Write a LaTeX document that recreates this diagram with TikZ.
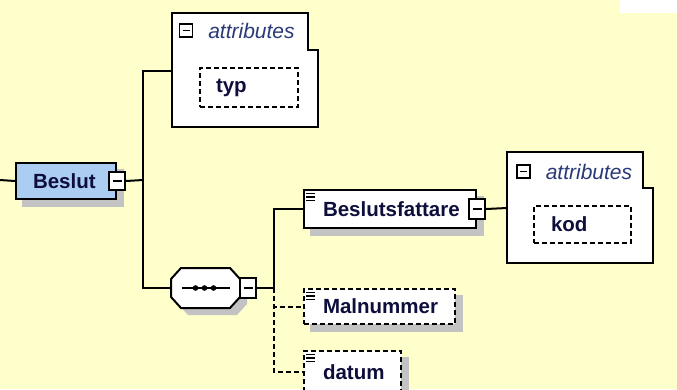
\documentclass[tikz,border=0pt]{standalone}
\usepackage{fontspec}
\setmainfont{Liberation Sans}
\usetikzlibrary{positioning}

\definecolor{bgyellow}{HTML}{FFFFCC}
\definecolor{elemblue}{HTML}{ABCDF1}
\definecolor{shadowgray}{HTML}{C3C3C3}
\definecolor{textnavy}{HTML}{0E0E3C}
\definecolor{attrblue}{HTML}{2A3A78}

\pgfdeclarelayer{back}
\pgfsetlayers{back,main}

% outline of the sequence compositor, shifted by (#2,#3)
\newcommand{\seqoctagon}[3]{([shift={(#2+10,#3)}]#1.north west) -- ([shift={(#2-10,#3)}]#1.north east)
  -- ([shift={(#2,#3+11)}]#1.north east) -- ([shift={(#2,#3-11)}]#1.south east)
  -- ([shift={(#2-10,#3)}]#1.south east) -- ([shift={(#2+10,#3)}]#1.south west)
  -- ([shift={(#2,#3-11)}]#1.south west) -- ([shift={(#2,#3+11)}]#1.north west) -- cycle}

\tikzset{every picture/.style={line width=2pt}}
\tikzset{
  elem/.style={draw, fill=white, inner xsep=17pt, inner ysep=0pt, align=left, anchor=north west,
    font=\fontsize{20.5}{24}\selectfont\bfseries, text=textnavy},
  optelem/.style={elem, dash pattern=on 5pt off 3pt},
  btn/.style={draw, fill=white, minimum width=16pt, minimum height=18pt, inner sep=0pt},
  sqr/.style={draw, line width=1.5pt, fill=white, minimum size=13pt, inner sep=0pt},
  attrtext/.style={font=\fontsize{21}{24}\selectfont\itshape, text=attrblue, inner sep=0pt, anchor=west},
  seqbox/.style={minimum width=67pt, minimum height=38pt, inner sep=0pt},
  optline/.style={dash pattern=on 5pt off 3pt}
}

\begin{document}
\begin{tikzpicture}[x=1pt,y=1pt,yscale=-1]
\useasboundingbox (0,0) rectangle (677,389);

%Element: Beslut
\node[elem, fill=elemblue, text width=66pt, minimum height=36pt] (beslut) at (15,162) {Beslut};
\node[btn] (beslutbtn) at (beslut.east) {};

%Attributes of Beslut
\draw[fill=white] (172,13) -- (308,13) -- (308,50) -- (318,50) -- (318,127) -- (172,127) -- cycle;
\coordinate (attrA) at (172,71);
\node[sqr] (attrAsq) at (186,30.5) {};
\node[attrtext, right=14pt of attrAsq] (attrAlbl) {attributes};
\node[optelem, inner xsep=16pt, text width=66pt, minimum height=39pt] (typ) at (199,67) {typ};

%Sequence
\node[seqbox] (seq) at (205.5,288) {};
\draw[fill=white] \seqoctagon{seq}{0}{0};
\node[btn, minimum height=20pt] (seqbtn) at ([xshift=8pt]seq.east) {};

%Element: Beslutsfattare
\node[elem, inner xsep=19pt, text width=134pt, minimum height=38pt] (bfatt) at (303,189) {Beslutsfattare};
\node[btn, minimum height=20pt] (bfattbtn) at (bfatt.east) {};

%Attributes of Beslutsfattare
\draw[fill=white] (507,152) -- (643,152) -- (643,188) -- (653,188) -- (653,263) -- (507,263) -- cycle;
\coordinate (attrB) at (507,208);
\node[sqr] (attrBsq) at (523.5,171.5) {};
\node[attrtext, right=14pt of attrBsq] (attrBlbl) {attributes};
\node[optelem, text width=63pt, minimum height=37pt] (kod) at (533,205) {kod};

%Optional elements
\node[optelem, inner xsep=19pt, text width=113pt, minimum height=35pt] (maln) at (303,288) {Malnummer};
\node[optelem, inner xsep=19pt, text width=59pt, minimum height=42pt] (datum) at (303,350) {datum};

%Connectors
\coordinate (inB) at (0,180);
\coordinate (jA) at (143,180);
\coordinate (jB) at (274,288);
\draw (inB) -- (beslut.west);
\draw (beslutbtn.east) -- (jA);
\draw (attrA) -| (jA) |- (seq.west);
\draw (seqbtn.east) -- (jB);
\draw (bfatt.west) -| (jB);
\draw[optline] (jB) |- (maln.west);
\draw[optline] (jB) |- (datum.west);
\draw (bfattbtn.east) -- (attrB);

%Minus signs
\foreach \b in {beslutbtn,seqbtn,bfattbtn}
  \draw[line width=1.5pt] ([xshift=-4.5]\b.center) -- ([xshift=4.5]\b.center);
\foreach \b in {attrAsq,attrBsq}
  \draw[line width=1.5pt] ([xshift=-3.5]\b.center) -- ([xshift=3.5]\b.center);

%Content icons
\foreach \e in {bfatt,maln,datum}
  \foreach \k in {0,1,2}
    \draw[line width=1.2pt] ([shift={(3,4.5+3.5*\k)}]\e.north west) -- ++(9,0);

%Sequence symbol
\draw[line width=1.5pt] ([xshift=-24]seq.center) -- ([xshift=24]seq.center);
\foreach \dx in {-10,-1,8}
  \fill ([xshift=\dx]seq.center) circle (2.8pt);

\begin{pgfonlayer}{back}
\fill[bgyellow] (0,0) rectangle (677,389);
\fill[white] (620,0) rectangle (677,13);
\foreach \e in {beslut,typ,bfatt,kod,maln,datum}
  \fill[shadowgray] ([shift={(7,7)}]\e.north west) rectangle ([shift={(7,7)}]\e.south east);
\fill[shadowgray] \seqoctagon{seq}{7}{7};
\end{pgfonlayer}

\end{tikzpicture}
\end{document}
